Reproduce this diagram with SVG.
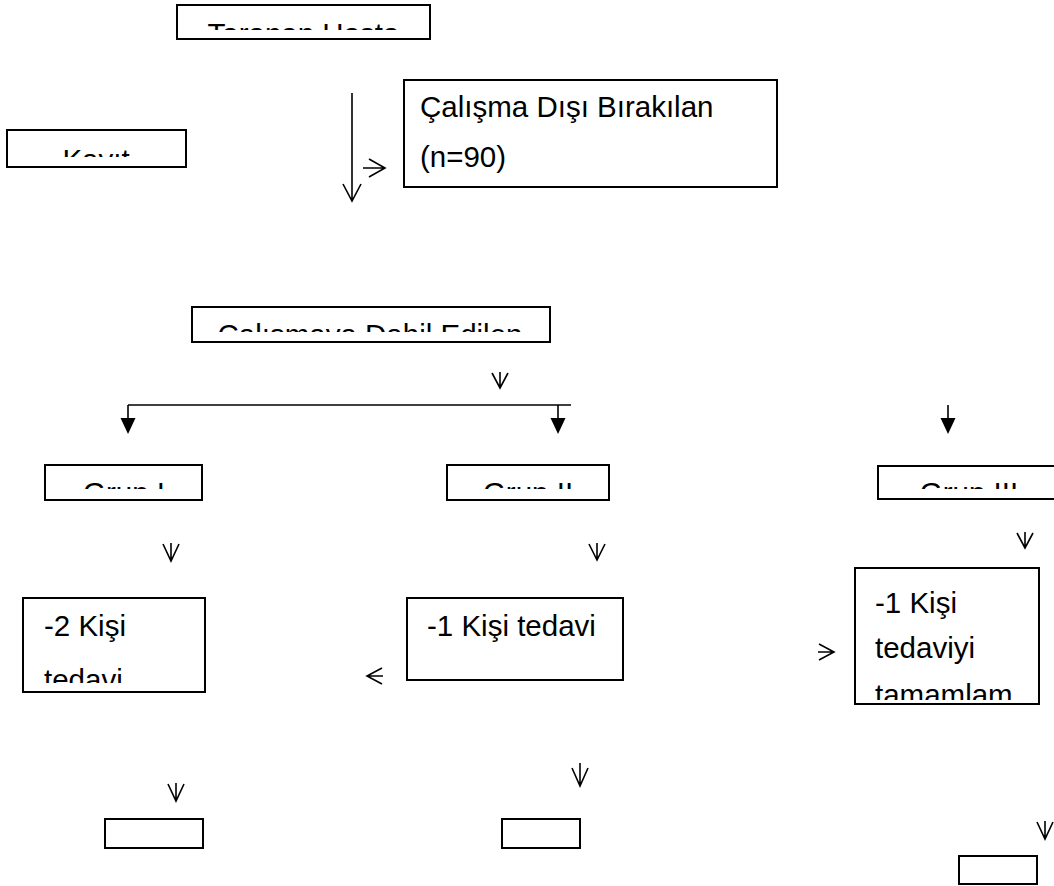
<svg xmlns="http://www.w3.org/2000/svg" width="1054" height="886" viewBox="0 0 1054 886">
<style>
  .box { fill: #fff; stroke: #000; stroke-width: 2; }
  .t { font-family: "Liberation Sans", Arial, sans-serif; font-size: 29.5px; fill: #000; }
  .c { text-anchor: middle; }
  .ln { fill: none; stroke: #000; stroke-width: 1.6; }
  .hd { fill: #000; stroke: none; }
</style>
<defs>
  <clipPath id="cp-taranan"><rect x="178" y="6" width="251" height="24"/></clipPath>
  <clipPath id="cp-kayit"><rect x="8" y="131" width="177" height="26"/></clipPath>
  <clipPath id="cp-dahil"><rect x="193" y="308" width="356" height="24"/></clipPath>
  <clipPath id="cp-g1"><rect x="46" y="466" width="155" height="23"/></clipPath>
  <clipPath id="cp-g2"><rect x="448" y="466" width="160" height="23"/></clipPath>
  <clipPath id="cp-g3"><rect x="879" y="467" width="180" height="22"/></clipPath>
  <clipPath id="cp-k2"><rect x="24" y="599" width="180" height="84"/></clipPath>
  <clipPath id="cp-k3"><rect x="856" y="569" width="182" height="131"/></clipPath>
</defs>
<rect width="1054" height="886" fill="#fff"/>

<g id="taranan">
  <rect class="box" x="177" y="5" width="253" height="34"/>
  <text class="t c" x="303.5" y="44" clip-path="url(#cp-taranan)">Taranan Hasta</text>
</g>
<g id="kayit">
  <rect class="box" x="7" y="130" width="179" height="37"/>
  <text class="t c" x="96" y="170" clip-path="url(#cp-kayit)">Kayıt</text>
</g>
<g id="disi">
  <rect class="box" x="404" y="80" width="373" height="107"/>
  <text class="t" x="420" y="117">Çalışma Dışı Bırakılan</text>
  <text class="t" x="420" y="167">(n=90)</text>
</g>
<g id="dahil">
  <rect class="box" x="192" y="307" width="358" height="35"/>
  <text class="t c" x="370" y="345" clip-path="url(#cp-dahil)">Çalışmaya Dahil Edilen</text>
</g>
<g id="grup1">
  <rect class="box" x="45" y="465" width="157" height="35"/>
  <text class="t c" x="124" y="503" clip-path="url(#cp-g1)">Grup I</text>
</g>
<g id="grup2">
  <rect class="box" x="447" y="465" width="162" height="35"/>
  <text class="t c" x="528" y="503" clip-path="url(#cp-g2)">Grup II</text>
</g>
<g id="grup3">
  <rect class="box" x="878" y="466" width="184" height="33"/>
  <text class="t c" x="969" y="503" clip-path="url(#cp-g3)">Grup III</text>
</g>
<g id="kisi2">
  <rect class="box" x="23" y="598" width="182" height="94"/>
  <g clip-path="url(#cp-k2)">
    <text class="t" x="44" y="636">-2 Kişi</text>
    <text class="t" x="44" y="690">tedavi</text>
  </g>
</g>
<g id="kisi1">
  <rect class="box" x="407" y="598" width="216" height="82"/>
  <text class="t" x="427" y="636">-1 Kişi tedavi</text>
</g>
<g id="kisi3">
  <rect class="box" x="855" y="568" width="184" height="136"/>
  <g clip-path="url(#cp-k3)">
    <text class="t" x="875" y="613">-1 Kişi</text>
    <text class="t" x="875" y="658">tedaviyi</text>
    <text class="t" x="875" y="705">tamamlam</text>
  </g>
</g>
<g id="son1"><rect class="box" x="105" y="819" width="98" height="29"/></g>
<g id="son2"><rect class="box" x="502" y="819" width="78" height="29"/></g>
<g id="son3"><rect class="box" x="959" y="856" width="78" height="28"/></g>

<g id="connectors">
  <path class="ln" d="M352 93 V201 M343 184 L352 201 L361 184"/>
  <path class="ln" d="M363 168 H385 M369 159 L385 168 L369 177"/>
  <path class="ln" d="M500 372 V388 M492 373 L500 388 L508 373"/>
  <path class="ln" d="M128 405 H571 M128 405 V420 M558 405 V420 M948 405 V420"/>
  <path class="hd" d="M120.5 418 H135.5 L128 434 Z"/>
  <path class="hd" d="M550.5 418 H565.5 L558 434 Z"/>
  <path class="hd" d="M940.5 418 H955.5 L948 434 Z"/>
  <path class="ln" d="M171 543 V561 M163 544 L171 561 L179 544"/>
  <path class="ln" d="M597 543 V560 M589 544 L597 560 L605 544"/>
  <path class="ln" d="M1025 532 V548 M1017 533 L1025 548 L1033 533"/>
  <path class="ln" d="M367 676 H383 M382 668 L367 676 L382 684"/>
  <path class="ln" d="M818 652 H834 M819 644 L834 652 L819 660"/>
  <path class="ln" d="M176 783 V801 M168 784 L176 801 L184 784"/>
  <path class="ln" d="M580 763 V786 M572 768 L580 786 L588 768"/>
  <path class="ln" d="M1045 821 V839 M1037 822 L1045 839 L1053 822"/>
</g>
</svg>
